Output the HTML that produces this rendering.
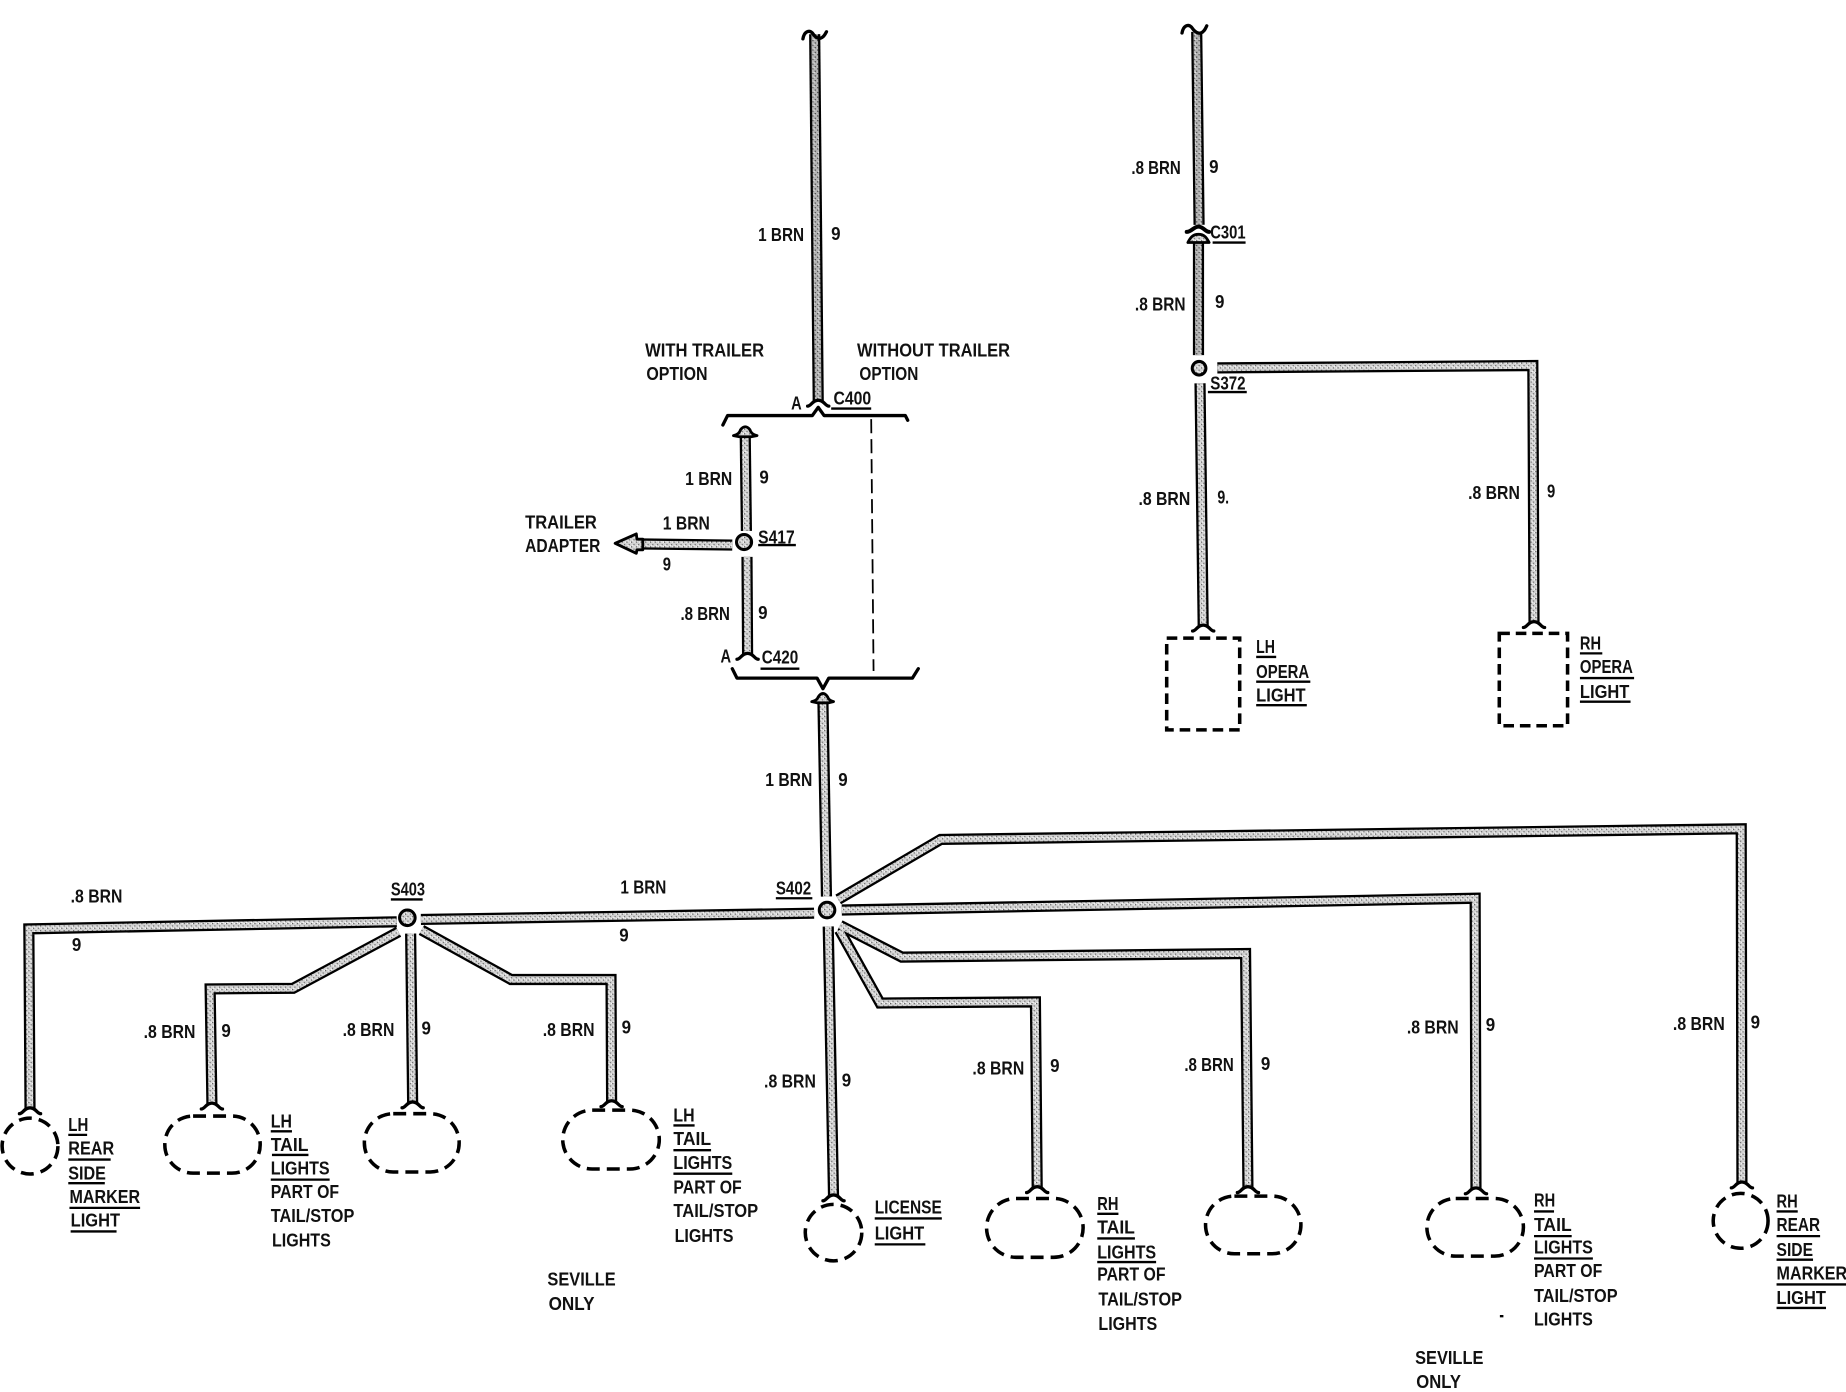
<!DOCTYPE html>
<html lang="en">
<head>
<meta charset="utf-8">
<title>Wiring diagram</title>
<style>
html,body{margin:0;padding:0;background:#fff;width:1846px;height:1392px;overflow:hidden}
svg{display:block}
text{font-family:"Liberation Sans",sans-serif;font-weight:bold;font-size:16px;fill:#111}
.w1{fill:none;stroke:#000;stroke-width:9.5;stroke-linejoin:miter}
.w2{fill:none;stroke:url(#st);stroke-width:5.6;stroke-linejoin:miter}
.w3{fill:none;stroke:url(#sd);stroke-width:5.6;stroke-linejoin:miter}
.u{stroke:#000;stroke-width:2}
.b{fill:none;stroke:#000;stroke-width:2.8;stroke-linejoin:round;stroke-linecap:round}
.d{fill:none;stroke:#000;stroke-width:3;stroke-dasharray:11 6}
.c{fill:url(#st);stroke:#000;stroke-width:2.6}
.h{fill:url(#st);stroke:#000;stroke-width:2.4;stroke-linejoin:round}
</style>
</head>
<body>
<svg xmlns="http://www.w3.org/2000/svg" width="1846" height="1392" viewBox="0 0 1568 1182.4" preserveAspectRatio="none">
<defs>
<pattern id="st" width="4" height="4" patternUnits="userSpaceOnUse">
<rect width="4" height="4" fill="#d2d2d2"/>
<rect x="0" y="0" width="1" height="1" fill="#555"/>
<rect x="2" y="2" width="1" height="1" fill="#666"/>
<rect x="3" y="0" width="1" height="1" fill="#fff"/>
<rect x="1" y="3" width="1" height="1" fill="#fff"/>
</pattern>
<pattern id="sd" width="4" height="4" patternUnits="userSpaceOnUse">
<rect width="4" height="4" fill="#b4b4b4"/>
<rect x="0" y="0" width="1" height="1" fill="#333"/>
<rect x="2" y="2" width="1" height="1" fill="#444"/>
<rect x="3" y="1" width="1" height="1" fill="#eee"/>
</pattern>
<path id="fl" d="M-9,5 C-6,5 -5,0 0,0 C5,0 6,5 9,5"/>
<path id="a" d="M692,29 L695,341"/>
<path id="b" d="M633,369 L634,451"/>
<path id="c" d="M634.5,473 L635,556"/>
<path id="e" d="M622,463 L540,462"/>
<path id="f" d="M699,596 L702,761.5"/>
<path id="g" d="M712,764 L799,713 L1479,704 L1479.6,1005"/>
<path id="h" d="M715,773 L1253,763 L1253.7,1010"/>
<path id="i" d="M713.5,786 L766,813 L1058,810 L1060,1009"/>
<path id="j" d="M713,790 L747.5,852 L879.5,851 L881,1009"/>
<path id="k" d="M703.5,787 L708,1016"/>
<path id="l" d="M357.5,781 L691.5,775.7"/>
<path id="m" d="M337,783 L24.5,789 L25.5,942"/>
<path id="n" d="M338.5,791.5 L249,839.5 L178.5,840 L180,938"/>
<path id="o" d="M348.8,793 L350.5,937"/>
<path id="p" d="M358,790 L434,832 L519,832 L519.5,936"/>
<path id="q" d="M1016.5,27 L1018.5,191"/>
<path id="r" d="M1018,205 L1018,301.6"/>
<path id="s" d="M1034,312.5 L1302,310.5 L1303,529"/>
<path id="t" d="M1019.3,325.6 L1022,532"/>
</defs>

<g class="w1">
<use href="#a"/><use href="#b"/><use href="#c"/><use href="#e"/><use href="#f"/><use href="#g"/><use href="#h"/><use href="#i"/><use href="#j"/><use href="#k"/><use href="#l"/><use href="#m"/><use href="#n"/><use href="#o"/><use href="#p"/><use href="#q"/><use href="#r"/><use href="#s"/><use href="#t"/>
</g>
<g class="w2">
<use href="#b"/><use href="#c"/><use href="#e"/><use href="#f"/><use href="#g"/><use href="#h"/><use href="#i"/><use href="#j"/><use href="#k"/><use href="#l"/><use href="#m"/><use href="#n"/><use href="#o"/><use href="#p"/><use href="#s"/><use href="#t"/>
</g>
<g class="w3">
<use href="#a"/><use href="#q"/><use href="#r"/>
</g>

<!-- tilde breaks -->
<path class="b" d="M682,33 C683,27 687,25 690,28 C692,31 695,34 698,32 C700,31 701,29 702,27"/>
<path class="b" d="M1004,28 C1005,22 1009,20 1012,23 C1014,26 1017,29 1020,28 C1023,27 1024,24 1025,22"/>

<!-- connector flares -->
<g class="b">
<use href="#fl" x="695" y="340"/>
<use href="#fl" x="635" y="555"/>
<use href="#fl" x="1022" y="531"/>
<use href="#fl" x="1303" y="528"/>
<use href="#fl" x="25.5" y="941"/>
<use href="#fl" x="180" y="937"/>
<use href="#fl" x="350.5" y="936"/>
<use href="#fl" x="519.5" y="935"/>
<use href="#fl" x="708" y="1015"/>
<use href="#fl" x="881" y="1008"/>
<use href="#fl" x="1060" y="1008"/>
<use href="#fl" x="1253.7" y="1009"/>
<use href="#fl" x="1479.6" y="1004"/>
</g>

<!-- brackets -->
<path class="b" d="M614,361 L618,353 L690,353 L695,346 L700,353 L769,353 L771,357"/>
<path d="M740,356 L742,570" fill="none" stroke="#000" stroke-width="1.5" stroke-dasharray="12 5"/>
<path class="b" d="M622,568 L626,576 L694,576 L699,585 L704,576 L775,576 L780,568"/>

<!-- arrowheads -->
<path class="h" d="M623,370 Q628,369 629,365 Q633,360 637,365 Q638,369 643,370 L638,371 L628,371 Z"/>
<path class="h" d="M522.5,461.5 L540.5,453.5 L541,458 L546,458 L546,467 L541,467 L540.5,470 Z"/>
<path class="h" d="M689.5,596 Q694,595 695,592 Q699,586 703,592 Q704,595 708,596 L703.5,597 L694.5,597 Z"/>

<!-- C301 -->
<path class="b" style="stroke-width:3.4" d="M1008,197 C1012,197 1014,192.5 1018,192.5 C1022,192.5 1024,197 1027,197"/>
<path class="h" d="M1009,206 C1011,202 1013,199 1018,199 C1023,199 1025,202 1027,206 L1023,206 L1013,206 Z"/>

<!-- splices -->
<circle class="c" cx="632" cy="460.4" r="6.4"/>
<circle class="c" cx="702.5" cy="773" r="6.6"/>
<circle class="c" cx="346" cy="779.6" r="6.6"/>
<circle class="c" cx="1018.5" cy="312.8" r="5.8"/>

<!-- lamps -->
<rect class="d" x="991" y="542" width="62" height="78" style="stroke-dasharray:9 5"/>
<rect class="d" x="1273.5" y="538" width="58" height="78.5" style="stroke-dasharray:9 5"/>
<circle class="d" cx="25.5" cy="973.5" r="23.7"/>
<rect class="d" x="140" y="948" width="81" height="48.5" rx="24"/>
<rect class="d" x="309.5" y="946" width="80.5" height="49.5" rx="24.5"/>
<rect class="d" x="478" y="943" width="82" height="50" rx="25"/>
<circle class="d" cx="708" cy="1047" r="24"/>
<rect class="d" x="838" y="1018" width="82" height="50" rx="25"/>
<rect class="d" x="1024" y="1016" width="81" height="49" rx="24.5"/>
<rect class="d" x="1212" y="1018" width="82" height="49" rx="24.5"/>
<circle class="d" cx="1478.5" cy="1037" r="23.3"/>

<!-- underlines -->
<g class="u">
<line x1="706" y1="347" x2="740" y2="347"/>
<line x1="644" y1="463" x2="676" y2="463"/>
<line x1="646" y1="568" x2="679" y2="568"/>
<line x1="1030" y1="206" x2="1058" y2="206"/>
<line x1="1026" y1="333" x2="1059" y2="333"/>
<line x1="332" y1="764" x2="359" y2="764"/>
<line x1="659" y1="763" x2="690" y2="763"/>
<line x1="1067" y1="558" x2="1084" y2="558"/><line x1="1067" y1="579" x2="1113" y2="579"/><line x1="1067" y1="599" x2="1110" y2="599"/>
<line x1="1342" y1="555" x2="1361" y2="555"/><line x1="1342" y1="576" x2="1388" y2="576"/><line x1="1342" y1="596" x2="1385" y2="596"/>
<line x1="58" y1="964" x2="74" y2="964"/><line x1="58" y1="985" x2="94" y2="985"/><line x1="58" y1="1005" x2="89" y2="1005"/><line x1="59" y1="1026" x2="119" y2="1026"/><line x1="60" y1="1046" x2="99" y2="1046"/>
<line x1="230" y1="961" x2="248" y2="961"/><line x1="231" y1="981" x2="262" y2="981"/><line x1="230" y1="1002" x2="280" y2="1002"/>
<line x1="572" y1="956" x2="590" y2="956"/><line x1="572" y1="977" x2="604" y2="977"/><line x1="572" y1="997" x2="622" y2="997"/>
<line x1="743" y1="1035" x2="800" y2="1035"/><line x1="743" y1="1057" x2="786" y2="1057"/>
<line x1="932" y1="1031" x2="950" y2="1031"/><line x1="932" y1="1052" x2="964" y2="1052"/><line x1="932" y1="1072" x2="982" y2="1072"/>
<line x1="1303" y1="1029" x2="1320" y2="1029"/><line x1="1303" y1="1050" x2="1335" y2="1050"/><line x1="1303" y1="1069" x2="1353" y2="1069"/>
<line x1="1509" y1="1029" x2="1527" y2="1029"/><line x1="1509" y1="1050" x2="1546" y2="1050"/><line x1="1509" y1="1070" x2="1540" y2="1070"/><line x1="1509" y1="1091" x2="1568" y2="1091"/><line x1="1509" y1="1111" x2="1551" y2="1111"/>
<line x1="1274" y1="1118" x2="1277" y2="1118"/>
</g>

<!-- labels -->
<g transform="translate(0,0.8)">
<text x="644" y="204" textLength="39" lengthAdjust="spacingAndGlyphs">1 BRN</text><text x="706" y="203" textLength="8" lengthAdjust="spacingAndGlyphs">9</text>
<text x="548" y="302" textLength="101" lengthAdjust="spacingAndGlyphs">WITH TRAILER</text>
<text x="549" y="322" textLength="52" lengthAdjust="spacingAndGlyphs">OPTION</text>
<text x="728" y="302" textLength="130" lengthAdjust="spacingAndGlyphs">WITHOUT TRAILER</text>
<text x="730" y="322" textLength="50" lengthAdjust="spacingAndGlyphs">OPTION</text>
<text x="672" y="347" textLength="9" lengthAdjust="spacingAndGlyphs">A</text>
<text x="708" y="343" textLength="32" lengthAdjust="spacingAndGlyphs">C400</text>
<text x="582" y="411" textLength="40" lengthAdjust="spacingAndGlyphs">1 BRN</text><text x="645" y="410" textLength="8" lengthAdjust="spacingAndGlyphs">9</text>
<text x="446" y="448" textLength="61" lengthAdjust="spacingAndGlyphs">TRAILER</text>
<text x="446" y="468" textLength="64" lengthAdjust="spacingAndGlyphs">ADAPTER</text>
<text x="563" y="449" textLength="40" lengthAdjust="spacingAndGlyphs">1 BRN</text>
<text x="563" y="484" textLength="7" lengthAdjust="spacingAndGlyphs">9</text>
<text x="644" y="461" textLength="31" lengthAdjust="spacingAndGlyphs">S417</text>
<text x="578" y="526" textLength="42" lengthAdjust="spacingAndGlyphs">.8 BRN</text><text x="644" y="525" textLength="8" lengthAdjust="spacingAndGlyphs">9</text>
<text x="612" y="562" textLength="9" lengthAdjust="spacingAndGlyphs">A</text>
<text x="647" y="563" textLength="31" lengthAdjust="spacingAndGlyphs">C420</text>
<text x="650" y="667" textLength="40" lengthAdjust="spacingAndGlyphs">1 BRN</text><text x="712" y="667" textLength="8" lengthAdjust="spacingAndGlyphs">9</text>

<text x="961" y="147" textLength="42" lengthAdjust="spacingAndGlyphs">.8 BRN</text><text x="1027" y="146" textLength="8" lengthAdjust="spacingAndGlyphs">9</text>
<text x="1028" y="202" textLength="30" lengthAdjust="spacingAndGlyphs">C301</text>
<text x="964" y="263" textLength="43" lengthAdjust="spacingAndGlyphs">.8 BRN</text><text x="1032" y="261" textLength="8" lengthAdjust="spacingAndGlyphs">9</text>
<text x="1028" y="330" textLength="30" lengthAdjust="spacingAndGlyphs">S372</text>
<text x="967" y="428" textLength="44" lengthAdjust="spacingAndGlyphs">.8 BRN</text><text x="1034" y="427" textLength="10" lengthAdjust="spacingAndGlyphs">9.</text>
<text x="1247" y="423" textLength="44" lengthAdjust="spacingAndGlyphs">.8 BRN</text><text x="1314" y="422" textLength="7" lengthAdjust="spacingAndGlyphs">9</text>
<text x="1067" y="554" textLength="16" lengthAdjust="spacingAndGlyphs">LH</text>
<text x="1067" y="575" textLength="45" lengthAdjust="spacingAndGlyphs">OPERA</text>
<text x="1067" y="595" textLength="42" lengthAdjust="spacingAndGlyphs">LIGHT</text>
<text x="1342" y="551" textLength="18" lengthAdjust="spacingAndGlyphs">RH</text>
<text x="1342" y="571" textLength="45" lengthAdjust="spacingAndGlyphs">OPERA</text>
<text x="1342" y="592" textLength="42" lengthAdjust="spacingAndGlyphs">LIGHT</text>

<text x="332" y="760" textLength="29" lengthAdjust="spacingAndGlyphs">S403</text>
<text x="60" y="766" textLength="44" lengthAdjust="spacingAndGlyphs">.8 BRN</text>
<text x="61" y="807" textLength="8" lengthAdjust="spacingAndGlyphs">9</text>
<text x="527" y="758" textLength="39" lengthAdjust="spacingAndGlyphs">1 BRN</text>
<text x="526" y="799" textLength="8" lengthAdjust="spacingAndGlyphs">9</text>
<text x="659" y="759" textLength="30" lengthAdjust="spacingAndGlyphs">S402</text>

<text x="122" y="881" textLength="44" lengthAdjust="spacingAndGlyphs">.8 BRN</text><text x="188" y="880" textLength="8" lengthAdjust="spacingAndGlyphs">9</text>
<text x="291" y="879" textLength="44" lengthAdjust="spacingAndGlyphs">.8 BRN</text><text x="358" y="878" textLength="8" lengthAdjust="spacingAndGlyphs">9</text>
<text x="461" y="879" textLength="44" lengthAdjust="spacingAndGlyphs">.8 BRN</text><text x="528" y="877" textLength="8" lengthAdjust="spacingAndGlyphs">9</text>
<text x="649" y="923" textLength="44" lengthAdjust="spacingAndGlyphs">.8 BRN</text><text x="715" y="922" textLength="8" lengthAdjust="spacingAndGlyphs">9</text>
<text x="826" y="912" textLength="44" lengthAdjust="spacingAndGlyphs">.8 BRN</text><text x="892" y="910" textLength="8" lengthAdjust="spacingAndGlyphs">9</text>
<text x="1006" y="909" textLength="42" lengthAdjust="spacingAndGlyphs">.8 BRN</text><text x="1071" y="908" textLength="8" lengthAdjust="spacingAndGlyphs">9</text>
<text x="1195" y="877" textLength="44" lengthAdjust="spacingAndGlyphs">.8 BRN</text><text x="1262" y="875" textLength="8" lengthAdjust="spacingAndGlyphs">9</text>
<text x="1421" y="874" textLength="44" lengthAdjust="spacingAndGlyphs">.8 BRN</text><text x="1487" y="873" textLength="8" lengthAdjust="spacingAndGlyphs">9</text>

<text x="58" y="960" textLength="17" lengthAdjust="spacingAndGlyphs">LH</text>
<text x="58" y="980" textLength="39" lengthAdjust="spacingAndGlyphs">REAR</text>
<text x="58" y="1001" textLength="32" lengthAdjust="spacingAndGlyphs">SIDE</text>
<text x="59" y="1021" textLength="60" lengthAdjust="spacingAndGlyphs">MARKER</text>
<text x="60" y="1041" textLength="42" lengthAdjust="spacingAndGlyphs">LIGHT</text>

<text x="230" y="957" textLength="18" lengthAdjust="spacingAndGlyphs">LH</text>
<text x="230" y="977" textLength="32" lengthAdjust="spacingAndGlyphs">TAIL</text>
<text x="230" y="997" textLength="50" lengthAdjust="spacingAndGlyphs">LIGHTS</text>
<text x="230" y="1017" textLength="58" lengthAdjust="spacingAndGlyphs">PART OF</text>
<text x="230" y="1037" textLength="71" lengthAdjust="spacingAndGlyphs">TAIL/STOP</text>
<text x="231" y="1058" textLength="50" lengthAdjust="spacingAndGlyphs">LIGHTS</text>

<text x="572" y="952" textLength="18" lengthAdjust="spacingAndGlyphs">LH</text>
<text x="572" y="972" textLength="32" lengthAdjust="spacingAndGlyphs">TAIL</text>
<text x="572" y="992" textLength="50" lengthAdjust="spacingAndGlyphs">LIGHTS</text>
<text x="572" y="1013" textLength="58" lengthAdjust="spacingAndGlyphs">PART OF</text>
<text x="572" y="1033" textLength="72" lengthAdjust="spacingAndGlyphs">TAIL/STOP</text>
<text x="573" y="1054" textLength="50" lengthAdjust="spacingAndGlyphs">LIGHTS</text>

<text x="465" y="1091" textLength="58" lengthAdjust="spacingAndGlyphs">SEVILLE</text>
<text x="466" y="1112" textLength="39" lengthAdjust="spacingAndGlyphs">ONLY</text>

<text x="743" y="1030" textLength="57" lengthAdjust="spacingAndGlyphs">LICENSE</text>
<text x="743" y="1052" textLength="42" lengthAdjust="spacingAndGlyphs">LIGHT</text>

<text x="932" y="1027" textLength="18" lengthAdjust="spacingAndGlyphs">RH</text>
<text x="932" y="1047" textLength="32" lengthAdjust="spacingAndGlyphs">TAIL</text>
<text x="932" y="1068" textLength="50" lengthAdjust="spacingAndGlyphs">LIGHTS</text>
<text x="932" y="1087" textLength="58" lengthAdjust="spacingAndGlyphs">PART OF</text>
<text x="933" y="1108" textLength="71" lengthAdjust="spacingAndGlyphs">TAIL/STOP</text>
<text x="933" y="1129" textLength="50" lengthAdjust="spacingAndGlyphs">LIGHTS</text>

<text x="1303" y="1024" textLength="18" lengthAdjust="spacingAndGlyphs">RH</text>
<text x="1303" y="1045" textLength="32" lengthAdjust="spacingAndGlyphs">TAIL</text>
<text x="1303" y="1064" textLength="50" lengthAdjust="spacingAndGlyphs">LIGHTS</text>
<text x="1303" y="1084" textLength="58" lengthAdjust="spacingAndGlyphs">PART OF</text>
<text x="1303" y="1105" textLength="71" lengthAdjust="spacingAndGlyphs">TAIL/STOP</text>
<text x="1303" y="1125" textLength="50" lengthAdjust="spacingAndGlyphs">LIGHTS</text>

<text x="1202" y="1158" textLength="58" lengthAdjust="spacingAndGlyphs">SEVILLE</text>
<text x="1203" y="1178" textLength="38" lengthAdjust="spacingAndGlyphs">ONLY</text>

<text x="1509" y="1025" textLength="18" lengthAdjust="spacingAndGlyphs">RH</text>
<text x="1509" y="1045" textLength="37" lengthAdjust="spacingAndGlyphs">REAR</text>
<text x="1509" y="1066" textLength="31" lengthAdjust="spacingAndGlyphs">SIDE</text>
<text x="1509" y="1086" textLength="60" lengthAdjust="spacingAndGlyphs">MARKER</text>
<text x="1509" y="1107" textLength="42" lengthAdjust="spacingAndGlyphs">LIGHT</text>
</g>
</svg>
</body>
</html>
